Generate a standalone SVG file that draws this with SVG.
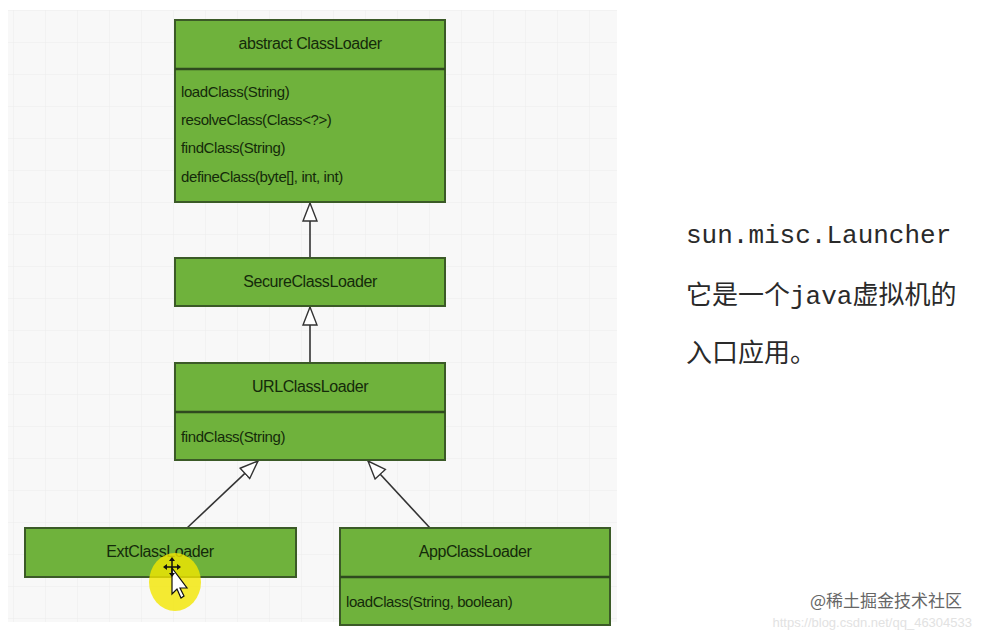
<svg xmlns="http://www.w3.org/2000/svg" width="981" height="632" viewBox="0 0 981 632">
<defs>
<pattern id="grid" width="32" height="32" patternUnits="userSpaceOnUse" x="13" y="10">
<path d="M0 0H32M0 0V32" fill="none" stroke="#ebebeb" stroke-width="1"/>
</pattern>
<marker id="tri" viewBox="0 0 20 16" refX="19" refY="8" markerWidth="20" markerHeight="16" markerUnits="userSpaceOnUse" orient="auto">
<path d="M1 1L19 8L1 15Z" fill="#ffffff" stroke="#333" stroke-width="1.4" stroke-linejoin="miter"/>
</marker>
</defs>
<style>
.box{fill:#6fb23c;stroke:#3b5a27;stroke-width:2}
.div{stroke:#2f4a1f;stroke-width:2.5}
.t{font-family:"Liberation Sans",Arial,sans-serif;font-size:16px;fill:#142a0a;text-anchor:middle;letter-spacing:-0.4px}
.m{font-family:"Liberation Sans",Arial,sans-serif;font-size:15px;fill:#142a0a;letter-spacing:-0.4px}
.edge{stroke:#333;stroke-width:1.6;fill:none;marker-end:url(#tri)}
.r{font-family:"Liberation Mono","Noto Sans CJK SC",monospace;font-size:26px;fill:#2a2a2a}
</style>
<rect width="981" height="632" fill="#ffffff"/>
<rect x="8" y="10" width="609" height="612" fill="#f8f8f8"/>
<rect x="8" y="10" width="609" height="612" fill="url(#grid)"/>

<g id="connectors">
<line class="edge" x1="310" y1="258" x2="310" y2="203"/>
<line class="edge" x1="310" y1="363" x2="310" y2="307"/>
<line class="edge" x1="187" y1="528" x2="258" y2="461"/>
<line class="edge" x1="430" y1="528" x2="368" y2="461"/>
</g>

<g id="classloader">
<rect class="box" x="175" y="20" width="270" height="182"/>
<line class="div" x1="175" y1="69" x2="445" y2="69"/>
<text class="t" x="310" y="49">abstract ClassLoader</text>
<text class="m" x="181" y="97">loadClass(String)</text>
<text class="m" x="181" y="125">resolveClass(Class&lt;?&gt;)</text>
<text class="m" x="181" y="153">findClass(String)</text>
<text class="m" x="181" y="182">defineClass(byte[], int, int)</text>
</g>

<g id="secureclassloader">
<rect class="box" x="175" y="258" width="270" height="48"/>
<text class="t" x="310" y="287">SecureClassLoader</text>
</g>

<g id="urlclassloader">
<rect class="box" x="175" y="363" width="270" height="97"/>
<line class="div" x1="175" y1="412" x2="445" y2="412"/>
<text class="t" x="310" y="392">URLClassLoader</text>
<text class="m" x="181" y="442">findClass(String)</text>
</g>

<g id="extclassloader">
<rect class="box" x="25" y="528" width="271" height="49"/>
<text class="t" x="160" y="557">ExtClassLoader</text>
</g>

<g id="appclassloader">
<rect class="box" x="340" y="528" width="270" height="97"/>
<line class="div" x1="340" y1="577" x2="610" y2="577"/>
<text class="t" x="475" y="557">AppClassLoader</text>
<text class="m" x="346" y="607">loadClass(String, boolean)</text>
</g>

<g id="cursor">
<ellipse cx="175" cy="582" rx="26" ry="29" fill="#f2e600" fill-opacity="0.8"/>
<path d="M172 568V594L177 589L181 598L184 596L180 588L187 588Z" fill="#ffffff" stroke="#111" stroke-width="1.2"/>
<path d="M172 560V574M166 567H178" stroke="#111" stroke-width="1.5"/>
<path d="M172 557L169 561H175Z M172 577L169 573H175Z M163 567L167 564V570Z M181 567L177 564V570Z" fill="#111"/>
</g>

<g id="note">
<text class="r" x="686" y="243">sun.misc.Launcher</text>
<text class="r" x="686" y="304">它是一个java虚拟机的</text>
<text class="r" x="686" y="362">入口应用。</text>
</g>

<g id="watermark">
<text x="972" y="627" font-family="Liberation Sans,Arial,sans-serif" font-size="13" fill="#e2e2e2" text-anchor="end">https://blog.csdn.net/qq_46304533</text>
<text x="962" y="607" font-family="'Noto Sans CJK SC',sans-serif" font-size="17" fill="#666" text-anchor="end">@稀土掘金技术社区</text>
</g>
</svg>
